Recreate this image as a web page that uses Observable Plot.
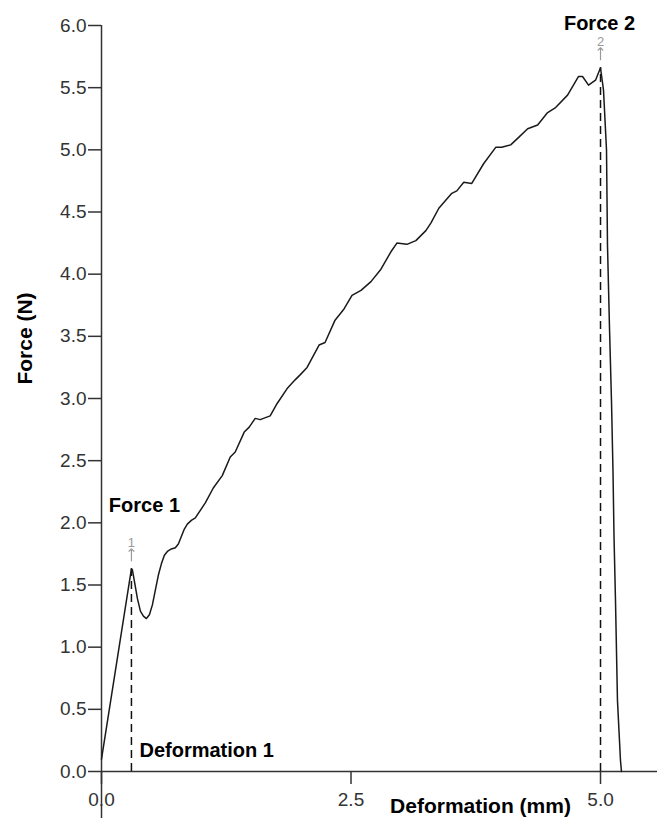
<!DOCTYPE html>
<html><head><meta charset="utf-8">
<script src="https://cdn.jsdelivr.net/npm/d3@7"></script>
<script src="https://cdn.jsdelivr.net/npm/@observablehq/plot@0.6"></script>
<style>body{margin:0;background:#fff} #chart svg{display:block}</style>
</head><body><div id="chart"></div>
<script>
// Deformation (mm) and Force (N)
const deformation = [0.00,0.28,0.30,0.31,0.33,0.36,0.39,0.42,0.45,0.48,0.51,0.54,0.57,0.60,0.63,0.66,0.70,0.74,0.77,0.80,0.83,0.86,0.90,0.94,1.04,1.12,1.21,1.29,1.34,1.43,1.48,1.54,1.59,1.69,1.76,1.86,1.94,1.99,2.06,2.18,2.24,2.34,2.43,2.51,2.60,2.70,2.80,2.90,2.96,3.06,3.15,3.25,3.30,3.38,3.51,3.56,3.63,3.71,3.83,3.95,4.01,4.10,4.18,4.27,4.37,4.47,4.55,4.67,4.78,4.82,4.88,4.95,5.00,5.03,5.06,5.07,5.09,5.11,5.125,5.135,5.15,5.17,5.20,5.21];
const force       = [0.10,1.53,1.63,1.62,1.53,1.39,1.29,1.25,1.23,1.26,1.34,1.46,1.58,1.67,1.74,1.77,1.79,1.80,1.83,1.89,1.95,1.99,2.02,2.04,2.16,2.28,2.38,2.53,2.57,2.73,2.77,2.84,2.83,2.86,2.96,3.08,3.15,3.19,3.25,3.43,3.45,3.63,3.72,3.83,3.87,3.94,4.04,4.18,4.25,4.24,4.27,4.35,4.41,4.53,4.65,4.67,4.74,4.73,4.89,5.02,5.02,5.04,5.10,5.17,5.20,5.30,5.34,5.44,5.59,5.59,5.52,5.56,5.66,5.48,5.00,4.23,3.57,2.98,2.42,1.90,1.38,0.57,0.09,0.00];

const peakIds = ["1", "2"];
const peakDeformation = [0.30, 5.00];
const peakForce = [1.63, 5.66];

const xTicks = [0, 2.5, 5.0];
const yTicks = [0, 0.5, 1, 1.5, 2, 2.5, 3, 3.5, 4, 4.5, 5, 5.5, 6];
const xLabel = "Deformation (mm)";
const yLabel = "Force (N)";
const peakForceLabels = ["Force 1", "Force 2"];
const peakDeformationLabel = "Deformation 1";

const curve = deformation.map((d, i) => ({d, f: force[i]}));
const peaks = peakIds.map((id, i) => ({id, d: peakDeformation[i], f: peakForce[i], label: peakForceLabels[i]}));
const fmt = d3.format(".1f");

const chart = Plot.plot({
  width: 657,
  height: 818,
  marginLeft: 101,
  marginRight: 0,
  marginTop: 25,
  marginBottom: 47,
  style: {fontFamily: "'Liberation Sans', Arial, sans-serif", fontSize: "19px", color: "#333", background: "#fff"},
  x: {domain: [0, 5.571], label: null},
  y: {domain: [0, 6], label: null},
  marks: [
    Plot.axisY({ticks: yTicks, tickFormat: fmt, tickSize: 13, tickPadding: 2, label: null, strokeWidth: 1.5, fontSize: 19}),
    Plot.axisX({ticks: xTicks, tickFormat: fmt, tickSize: 13, tickPadding: 8, label: null, strokeWidth: 1.5, fontSize: 19}),
    Plot.ruleX([0], {stroke: "#333", strokeWidth: 1.5, insetBottom: -47}),
    Plot.ruleY([0], {stroke: "#333", strokeWidth: 1.5}),
    Plot.ruleX(peaks, {x: "d", y1: 0, y2: "f", stroke: "#111", strokeWidth: 1.5, strokeDasharray: "8,5"}),
    Plot.line(curve, {x: "d", y: "f", curve: "linear", stroke: "#1a1a1a", strokeWidth: 1.5, strokeLinejoin: "round"}),
    Plot.vector(peaks, {x: "d", y: "f", length: 12, anchor: "start", dy: -8, stroke: "#999", strokeWidth: 1.2}),
    Plot.text(peaks, {x: "d", y: "f", text: "id", dy: -26, fill: "#999", fontSize: 13}),
    Plot.text(peaks.slice(0, 1), {x: "d", y: "f", text: "label", dx: 13, dy: -63, fill: "#000", fontWeight: "bold", fontSize: 20}),
    Plot.text(peaks.slice(1), {x: "d", y: "f", text: "label", dx: -1, dy: -44, fill: "#000", fontWeight: "bold", fontSize: 20}),
    Plot.text(peaks.slice(0, 1), {x: "d", y: () => 0, text: () => peakDeformationLabel, dx: 8, dy: -21, textAnchor: "start", fill: "#000", fontWeight: "bold", fontSize: 20}),
    Plot.text([yLabel], {frameAnchor: "left", textAnchor: "middle", dx: -76, dy: -60, rotate: -90, fill: "#000", fontWeight: "bold", fontSize: 21}),
    Plot.text([xLabel], {frameAnchor: "bottom", textAnchor: "middle", lineAnchor: "middle", dx: 101, dy: 35, fill: "#000", fontWeight: "bold", fontSize: 21})
  ]
});
document.getElementById("chart").appendChild(chart);
</script>
</body></html>
